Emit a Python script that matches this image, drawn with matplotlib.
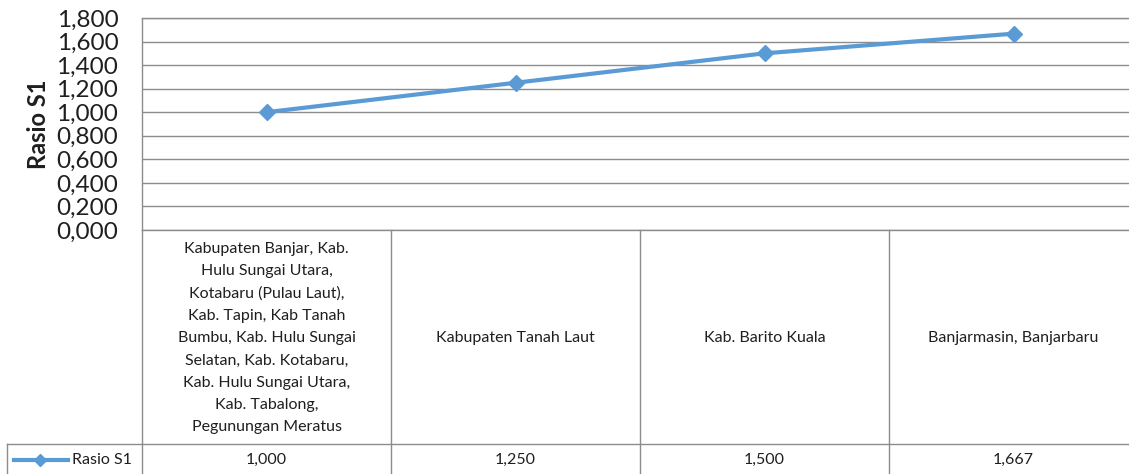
import matplotlib
matplotlib.use("Agg")
import matplotlib.pyplot as plt
from matplotlib import transforms
from matplotlib.ticker import FuncFormatter, MultipleLocator

categories = [
    "Kabupaten Banjar, Kab.\nHulu Sungai Utara,\nKotabaru (Pulau Laut),\nKab. Tapin, Kab Tanah\nBumbu, Kab. Hulu Sungai\nSelatan, Kab. Kotabaru,\nKab. Hulu Sungai Utara,\nKab. Tabalong,\nPegunungan Meratus",
    "Kabupaten Tanah Laut",
    "Kab. Barito Kuala",
    "Banjarmasin, Banjarbaru",
]
values = [1.000, 1.250, 1.500, 1.667]
series_name = "Rasio S1"
y_label = "Rasio S1"

W, H = 1129, 474
DPI = 100
plt.rcParams['font.family'] = ['Lato', 'DejaVu Sans']

fig = plt.figure(figsize=(W / DPI, H / DPI), dpi=DPI)
fig.patch.set_facecolor("white")

grid_c = "#8c8c8c"
line_c = "#5B9BD5"
text_c = "#1f1f1f"

left_px, top_px, zero_px, colw = 142, 18, 230, 249
ax = fig.add_axes([left_px / W, (H - zero_px) / H, 4 * colw / W, (zero_px - top_px) / H])
x = list(range(len(values)))
ax.plot(x, values, color=line_c, lw=3, marker="D", ms=8, zorder=3)
ax.set_xlim(-0.5, len(values) - 0.5)
ax.set_ylim(0, 1.8)
ax.yaxis.set_major_locator(MultipleLocator(0.2))
ax.yaxis.set_major_formatter(FuncFormatter(lambda v, p: f"{v:.3f}".replace(".", ",")))
ax.grid(axis="y", color=grid_c, lw=1)
ax.set_axisbelow(True)
ax.set_xticks([])
ax.tick_params(axis="y", length=0, pad=17, labelsize=17.5, labelcolor=text_c)
for s in ["right", "bottom"]:
    ax.spines[s].set_visible(False)
for s in ["left", "top"]:
    ax.spines[s].set_color(grid_c)
    ax.spines[s].set_linewidth(1)
ax.set_ylabel(y_label, fontsize=17, fontweight="bold", color=text_c)
ax.yaxis.set_label_coords(-0.092, 0.5)

# data table overlay in pixel coordinates
tab = fig.add_axes([0, 0, 1, 1], zorder=5)
tab.set_xlim(0, W)
tab.set_ylim(H, 0)
tab.axis("off")
tab.patch.set_alpha(0)
bt = transforms.blended_transform_factory(ax.transData, tab.transData)

row_split = 444
tab.plot([left_px, W], [zero_px, zero_px], color=grid_c, lw=1)
tab.plot([7, W], [row_split, row_split], color=grid_c, lw=1)
tab.plot([7, 7], [row_split, H], color=grid_c, lw=1)
for i in range(len(values) + 1):
    tab.plot([i - 0.5, i - 0.5], [zero_px, H], color=grid_c, lw=1, transform=bt)

for i, (c, v) in enumerate(zip(categories, values)):
    tab.text(i, (zero_px + row_split) / 2 + 1, c, transform=bt, ha="center", va="center",
             fontsize=11.5, color=text_c, linespacing=1.74)
    tab.text(i, 460, f"{v:.3f}".replace(".", ","), transform=bt, ha="center",
             va="center", fontsize=11.5, color=text_c)

tab.plot([14, 68], [460, 460], color=line_c, lw=3)
tab.plot([40], [460], color=line_c, marker="D", ms=6)
tab.text(72, 460, series_name, ha="left", va="center", fontsize=11.5, color=text_c)

fig.savefig("out.png", dpi=DPI)
